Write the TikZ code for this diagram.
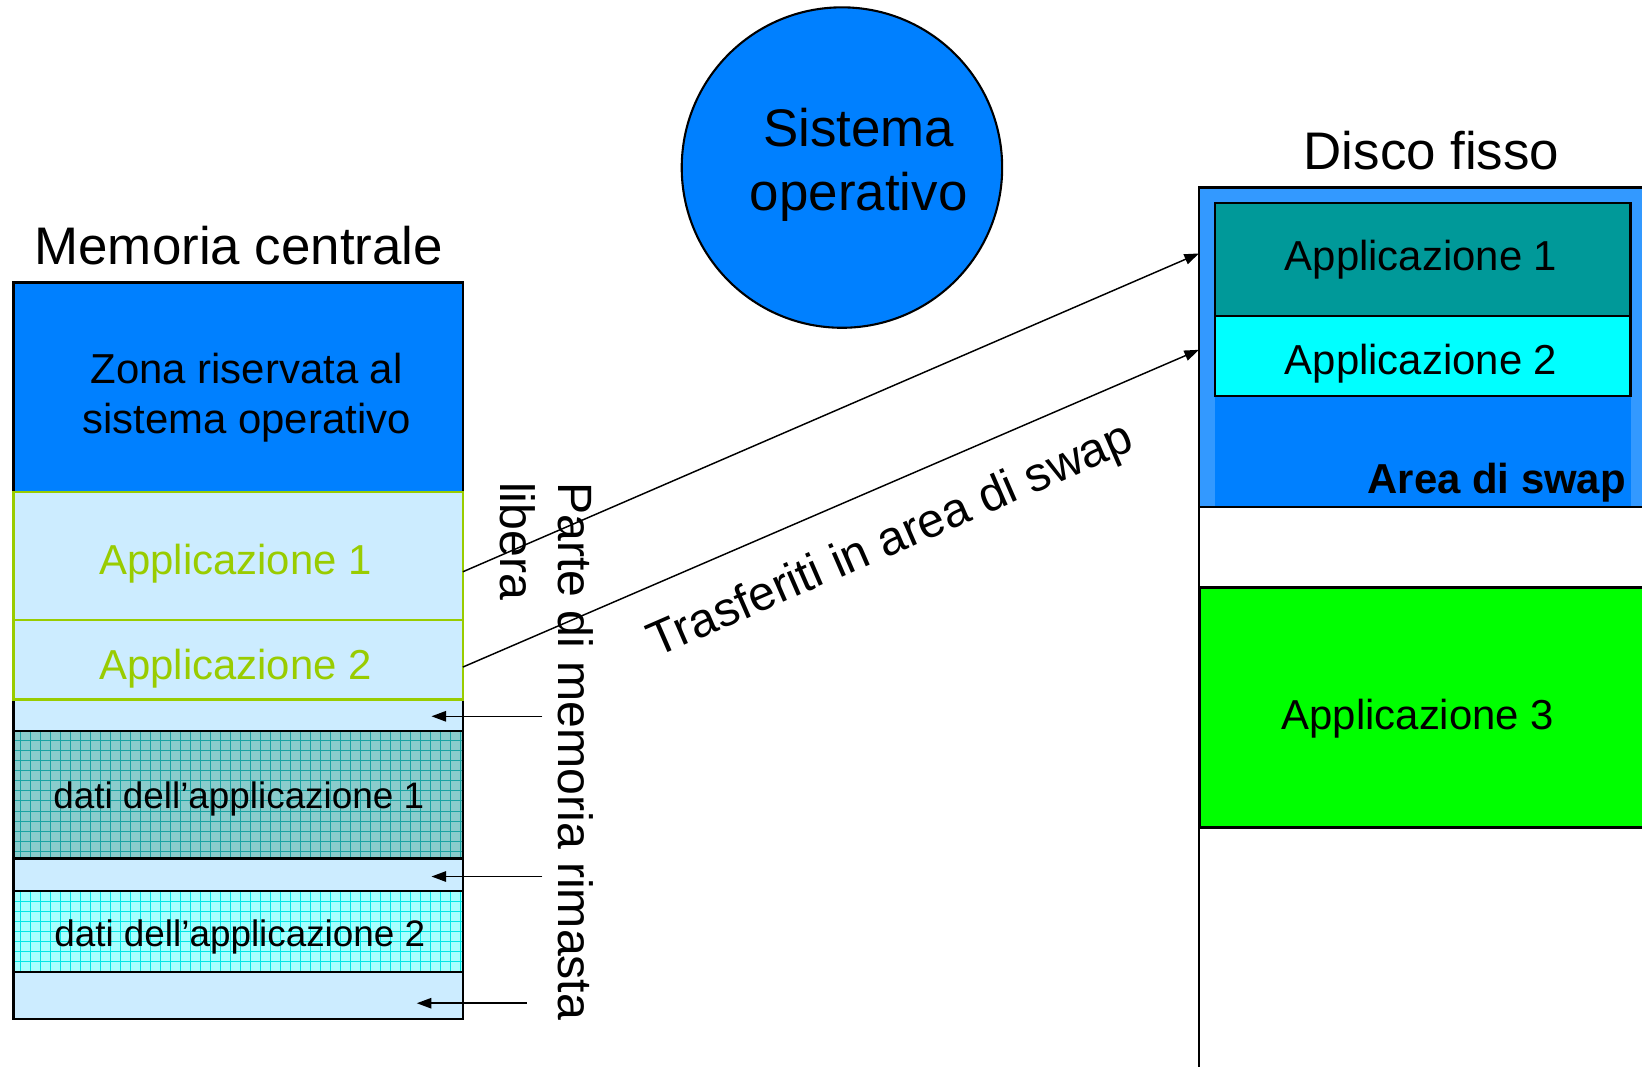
\documentclass[tikz,border=0pt]{standalone}
\usepackage{fontspec}
\setmainfont{Liberation Sans}
\usetikzlibrary{arrows.meta}
\definecolor{osblue}{HTML}{0080FF}
\definecolor{memfree}{HTML}{CCECFF}
\definecolor{appgreen}{HTML}{99CC00}
\definecolor{tealbg}{HTML}{8ACCCC}
\definecolor{tealline}{HTML}{1AA3A3}
\definecolor{cyanbg}{HTML}{A6FFFF}
\definecolor{cyanline}{HTML}{00E6E6}
\definecolor{diskblue}{HTML}{3399FF}
\definecolor{diskteal}{HTML}{009999}
\definecolor{diskcyan}{HTML}{00FFFF}
\definecolor{diskgreen}{HTML}{00FF00}
\begin{document}
\begin{tikzpicture}[x=0.5pt,y=-0.5pt,
  blk/.style={draw=black,line width=1.2pt},
  appblk/.style={draw=appgreen,line width=1.2pt,fill=memfree},
  txt/.style={inner sep=0pt,anchor=base},
  ftitle/.style={font=\fontsize{25.25pt}{30.3pt}\selectfont},
  fbox/.style={font=\fontsize{20pt}{24pt}\selectfont},
  fdati/.style={font=\fontsize{17.6pt}{21pt}\selectfont},
  flabel/.style={font=\fontsize{23pt}{27.6pt}\selectfont},
  conn/.style={-{Triangle[length=7pt,width=5pt]},line width=0.7pt},
  gridl/.style={line width=0.4pt}
]
\useasboundingbox (0,0) rectangle (1568,1018);
\clip (0,0) rectangle (1568,1018);

% ---------- Memoria centrale ----------
\draw[blk,fill=osblue] (13,270) rectangle (442,470);
\draw[blk,fill=memfree] (13,668) rectangle (442,698);
\draw[blk,fill=memfree] (13,820) rectangle (442,851);
\draw[blk,fill=memfree] (13,928) rectangle (442,973);
\begin{scope}
  \clip (13,698) rectangle (442,820);
  \fill[tealbg] (13,698) rectangle (442,820);
  \draw[gridl,tealline,step=4.78pt] (10,695) grid (445,823);
\end{scope}
\draw[blk] (13,698) rectangle (442,820);
\begin{scope}
  \clip (13,851) rectangle (442,928);
  \fill[cyanbg] (13,851) rectangle (442,928);
  \draw[gridl,cyanline,step=4.78pt] (10,848) grid (445,931);
\end{scope}
\draw[blk] (13,851) rectangle (442,928);
\draw[appblk] (13,470) rectangle (442,592);
\draw[appblk] (13,592) rectangle (442,668);

\node[txt,ftitle] (memtitle) at (228,253) {Memoria centrale};
\node[inner sep=0pt,fbox,align=center] (oszone) at (235.5,380) {Zona riservata al\\sistema operativo};
\node[txt,fbox,text=appgreen] (mapp1) at (225,549) {Applicazione 1};
\node[txt,fbox,text=appgreen] (mapp2) at (225,648.5) {Applicazione 2};
\node[txt,fdati] (dati1) at (228,772) {dati dell’applicazione 1};
\node[txt,fdati] (dati2) at (229,904) {dati dell’applicazione 2};

% ---------- Sistema operativo ----------
\node[circle,draw=black,line width=1pt,fill=osblue,minimum size=153pt,inner sep=0pt] (oscirc) at (804,160) {};
\node[inner sep=0pt,ftitle,align=center] (ostext) at (820,157.5) {Sistema\\operativo};

% ---------- Disco fisso ----------
\fill[diskblue] (1145,179) rectangle (1590,484);
\fill[osblue] (1160,378) rectangle (1557,484);
\draw[line width=1pt] (1590,179) -- (1145,179) -- (1145,1030);
\draw[line width=1pt] (1145,484) -- (1590,484);
\draw[line width=1pt,fill=diskteal] (1160,194) rectangle (1557,302);
\draw[line width=1pt,fill=diskcyan] (1160,302) rectangle (1557,378);
\draw[line width=1.4pt,fill=diskgreen] (1145,561) rectangle (1590,790);

\node[txt,ftitle] (disktitle) at (1367,162) {Disco fisso};
\node[txt,fbox] (dapp1) at (1357,258.5) {Applicazione 1};
\node[txt,fbox] (dapp2) at (1357,358) {Applicazione 2};
\node[inner sep=0pt,anchor=base east,font=\fontsize{20pt}{24pt}\selectfont\bfseries] (swap) at (1553,471) {Area di swap};
\node[txt,fbox] (dapp3) at (1354,697) {Applicazione 3};

% ---------- Connectors ----------
\coordinate (m1) at (442,546);
\coordinate (d1) at (1145,242);
\coordinate (m2) at (442,637);
\coordinate (d2) at (1145,334);
\draw[conn] (m1) -- (d1);
\draw[conn] (m2) -- (d2);
\node[txt,flabel,rotate=23.5] (trasf) at (856,528.5) {Trasferiti in area di swap};

\coordinate (f1s) at (518,684);
\coordinate (f1e) at (412,684);
\coordinate (f2s) at (518,837);
\coordinate (f2e) at (412,837);
\coordinate (f3s) at (503,958);
\coordinate (f3e) at (398,958);
\draw[conn] (f1s) -- (f1e);
\draw[conn] (f2s) -- (f2e);
\draw[conn] (f3s) -- (f3e);

\node[inner sep=0pt,rotate=-90,anchor=north west,align=left,flabel] (parte) at (567,460) {Parte di memoria rimasta\\libera};
\end{tikzpicture}
\end{document}
